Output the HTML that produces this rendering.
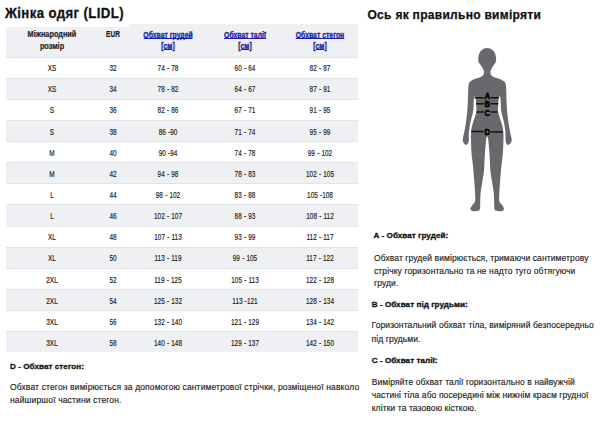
<!DOCTYPE html>
<html><head><meta charset="utf-8"><style>
html,body{margin:0;padding:0;background:#fff;width:600px;height:427px;overflow:hidden;font-family:"Liberation Sans",sans-serif}
#wrap{position:absolute;left:0;top:0;width:600px;height:427px;background:#fff}
</style></head><body><div id="wrap">
<svg style="position:absolute;left:0;top:0" width="600" height="427" viewBox="0 0 600 427">
<path d="M487.2 48C489 48 491.27 48.95 492.6 49.9C493.93 50.85 494.62 52.27 495.2 53.7C495.78 55.13 496 57.1 496.1 58.5C496.2 59.9 496.12 61.12 495.8 62.1C495.48 63.08 494.8 63.48 494.2 64.4C493.6 65.32 492.78 66.6 492.2 67.6C491.62 68.6 491 69.57 490.7 70.4C490.4 71.23 490.33 71.83 490.4 72.6C490.47 73.37 490.57 74.28 491.1 75C491.63 75.72 492.28 76.28 493.6 76.9C494.92 77.52 497.5 78.12 499 78.7C500.5 79.28 501.62 79.82 502.6 80.4C503.58 80.98 504.37 81.43 504.9 82.2C505.43 82.97 505.58 83.77 505.8 85C506.02 86.23 506.08 87.1 506.2 89.6C506.32 92.1 506.35 96.43 506.5 100C506.65 103.57 506.78 107.33 507.1 111C507.42 114.67 507.93 118.67 508.4 122C508.87 125.33 509.4 128.37 509.9 131C510.4 133.63 511.13 136.1 511.4 137.8C511.67 139.5 511.82 140.13 511.5 141.2C511.18 142.27 510.15 143.6 509.5 144.2C508.85 144.8 508.15 145 507.6 144.8C507.05 144.6 506.55 143.8 506.2 143C505.85 142.2 505.6 141.08 505.5 140C505.4 138.92 505.67 138.33 505.6 136.5C505.53 134.67 505.47 131.75 505.1 129C504.73 126.25 504.05 123 503.4 120C502.75 117 501.67 114.33 501.2 111C500.73 107.67 500.83 102.45 500.6 100C500.37 97.55 500.12 96.47 499.8 96.3C499.48 96.13 498.98 97.38 498.7 99C498.42 100.62 498.2 103.83 498.1 106C498 108.17 497.75 109.83 498.1 112C498.45 114.17 499.48 116.67 500.2 119C500.92 121.33 501.87 123.67 502.4 126C502.93 128.33 503.23 130.33 503.4 133C503.57 135.67 503.5 138.5 503.4 142C503.3 145.5 503.13 150 502.8 154C502.47 158 501.73 162.83 501.4 166C501.07 169.17 501.07 169.83 500.8 173C500.53 176.17 500.07 181.17 499.8 185C499.53 188.83 499.27 193.25 499.2 196C499.13 198.75 498.87 199.92 499.4 201.5C499.93 203.08 501.63 204.28 502.4 205.5C503.17 206.72 504.03 207.88 504 208.8C503.97 209.72 503.25 210.63 502.2 211C501.15 211.37 498.97 211.25 497.7 211C496.43 210.75 495.18 210.83 494.6 209.5C494.02 208.17 494.33 205.75 494.2 203C494.07 200.25 494.2 196.83 493.8 193C493.4 189.17 492.35 183.5 491.8 180C491.25 176.5 490.82 175.17 490.5 172C490.18 168.83 490.1 164.5 489.9 161C489.7 157.5 489.52 154 489.3 151C489.08 148 488.83 145.25 488.6 143C488.37 140.75 488.13 138.6 487.9 137.5C487.67 136.4 487.43 136.4 487.2 136.4C486.97 136.4 486.73 136.4 486.5 137.5C486.27 138.6 486.03 140.75 485.8 143C485.57 145.25 485.32 148 485.1 151C484.88 154 484.7 157.5 484.5 161C484.3 164.5 484.22 168.83 483.9 172C483.58 175.17 483.15 176.5 482.6 180C482.05 183.5 481 189.17 480.6 193C480.2 196.83 480.33 200.25 480.2 203C480.07 205.75 480.38 208.17 479.8 209.5C479.22 210.83 477.97 210.75 476.7 211C475.43 211.25 473.25 211.37 472.2 211C471.15 210.63 470.43 209.72 470.4 208.8C470.37 207.88 471.23 206.72 472 205.5C472.77 204.28 474.47 203.08 475 201.5C475.53 199.92 475.27 198.75 475.2 196C475.13 193.25 474.87 188.83 474.6 185C474.33 181.17 473.87 176.17 473.6 173C473.33 169.83 473.33 169.17 473 166C472.67 162.83 471.93 158 471.6 154C471.27 150 471.1 145.5 471 142C470.9 138.5 470.83 135.67 471 133C471.17 130.33 471.47 128.33 472 126C472.53 123.67 473.48 121.33 474.2 119C474.92 116.67 475.95 114.17 476.3 112C476.65 109.83 476.4 108.17 476.3 106C476.2 103.83 475.98 100.62 475.7 99C475.42 97.38 474.92 96.13 474.6 96.3C474.28 96.47 474.03 97.55 473.8 100C473.57 102.45 473.67 107.67 473.2 111C472.73 114.33 471.65 117 471 120C470.35 123 469.67 126.25 469.3 129C468.93 131.75 468.87 134.67 468.8 136.5C468.73 138.33 469 138.92 468.9 140C468.8 141.08 468.55 142.2 468.2 143C467.85 143.8 467.35 144.6 466.8 144.8C466.25 145 465.55 144.8 464.9 144.2C464.25 143.6 463.22 142.27 462.9 141.2C462.58 140.13 462.73 139.5 463 137.8C463.27 136.1 464 133.63 464.5 131C465 128.37 465.53 125.33 466 122C466.47 118.67 466.98 114.67 467.3 111C467.62 107.33 467.75 103.57 467.9 100C468.05 96.43 468.08 92.1 468.2 89.6C468.32 87.1 468.38 86.23 468.6 85C468.82 83.77 468.97 82.97 469.5 82.2C470.03 81.43 470.82 80.98 471.8 80.4C472.78 79.82 473.9 79.28 475.4 78.7C476.9 78.12 479.48 77.52 480.8 76.9C482.12 76.28 482.77 75.72 483.3 75C483.83 74.28 483.93 73.37 484 72.6C484.07 71.83 484 71.23 483.7 70.4C483.4 69.57 482.78 68.6 482.2 67.6C481.62 66.6 480.8 65.32 480.2 64.4C479.6 63.48 478.92 63.08 478.6 62.1C478.28 61.12 478.2 59.9 478.3 58.5C478.4 57.1 478.62 55.13 479.2 53.7C479.78 52.27 480.47 50.85 481.8 49.9C483.13 48.95 485.4 48 487.2 48Z" fill="#68696c"/>
<g stroke="#141414" stroke-width="1.5" fill="none">
<path d="M474.6 97.7H484.6M490.2 97.7H498.8"/>
<path d="M476 103.7H484.6M490.2 103.7H498.2"/>
<path d="M476.5 112H484.6M490.2 112H497.6"/>
<path d="M471.2 131.4L484.6 131.6M490.2 131.8L502.8 132"/>
</g>
<g font-family="Liberation Sans" font-weight="bold" font-size="94.0" fill="none" text-anchor="middle" stroke="#8a8b8e" stroke-width="20.0" stroke-linejoin="round"><text transform="translate(487.4 99.4) scale(0.0840 0.1)">A</text><text transform="translate(487.4 107.1) scale(0.0840 0.1)">B</text><text transform="translate(487.4 115.5) scale(0.0840 0.1)">C</text><text transform="translate(487.4 135.2) scale(0.0840 0.1)">D</text></g><g font-family="Liberation Sans" font-weight="bold" font-size="94.0" fill="#0a0a0a" text-anchor="middle" stroke="#0a0a0a" stroke-width="10.0"><text transform="translate(487.4 99.4) scale(0.0840 0.1)">A</text><text transform="translate(487.4 107.1) scale(0.0840 0.1)">B</text><text transform="translate(487.4 115.5) scale(0.0840 0.1)">C</text><text transform="translate(487.4 135.2) scale(0.0840 0.1)">D</text></g>

</svg>
<div style="position:absolute;left:6.3px;top:24px;width:351.9px;height:32.5px;background:#eff0f3"></div><div style="position:absolute;left:6.3px;top:56.50px;width:351.9px;height:1px;background:#e3e4e7"></div><div style="position:absolute;left:6.3px;top:77.64px;width:351.9px;height:21.14px;background:#eff0f3"></div><div style="position:absolute;left:6.3px;top:77.64px;width:351.9px;height:1px;background:#e3e4e7"></div><div style="position:absolute;left:6.3px;top:98.78px;width:351.9px;height:1px;background:#e3e4e7"></div><div style="position:absolute;left:6.3px;top:119.92px;width:351.9px;height:21.14px;background:#eff0f3"></div><div style="position:absolute;left:6.3px;top:119.92px;width:351.9px;height:1px;background:#e3e4e7"></div><div style="position:absolute;left:6.3px;top:141.06px;width:351.9px;height:1px;background:#e3e4e7"></div><div style="position:absolute;left:6.3px;top:162.20px;width:351.9px;height:21.14px;background:#eff0f3"></div><div style="position:absolute;left:6.3px;top:162.20px;width:351.9px;height:1px;background:#e3e4e7"></div><div style="position:absolute;left:6.3px;top:183.34px;width:351.9px;height:1px;background:#e3e4e7"></div><div style="position:absolute;left:6.3px;top:204.48px;width:351.9px;height:21.14px;background:#eff0f3"></div><div style="position:absolute;left:6.3px;top:204.48px;width:351.9px;height:1px;background:#e3e4e7"></div><div style="position:absolute;left:6.3px;top:225.62px;width:351.9px;height:1px;background:#e3e4e7"></div><div style="position:absolute;left:6.3px;top:246.76px;width:351.9px;height:21.14px;background:#eff0f3"></div><div style="position:absolute;left:6.3px;top:246.76px;width:351.9px;height:1px;background:#e3e4e7"></div><div style="position:absolute;left:6.3px;top:267.90px;width:351.9px;height:1px;background:#e3e4e7"></div><div style="position:absolute;left:6.3px;top:289.04px;width:351.9px;height:21.14px;background:#eff0f3"></div><div style="position:absolute;left:6.3px;top:289.04px;width:351.9px;height:1px;background:#e3e4e7"></div><div style="position:absolute;left:6.3px;top:310.18px;width:351.9px;height:1px;background:#e3e4e7"></div><div style="position:absolute;left:6.3px;top:331.32px;width:351.9px;height:21.14px;background:#eff0f3"></div><div style="position:absolute;left:6.3px;top:331.32px;width:351.9px;height:1px;background:#e3e4e7"></div><div style="position:absolute;left:0;top:0;width:128.5px;height:26.5px;background:#fff"></div><div style="position:absolute;left:5.10px;top:5.49px;font-size:14.8px;line-height:17.76px;font-weight:bold;color:#111;letter-spacing:0.45px;white-space:nowrap;transform:scaleX(0.89);-webkit-text-stroke:0.3px #111;transform-origin:0 0;">Жінка одяг (LIDL)</div><div style="position:absolute;left:367.50px;top:7.94px;font-size:12px;line-height:14.40px;font-weight:bold;color:#111;letter-spacing:0.29px;white-space:nowrap;-webkit-text-stroke:0.25px #111;transform-origin:0 0;">Ось як правильно виміряти</div><div style="position:absolute;left:-148.00px;width:400px;top:30.14px;font-size:8.2px;line-height:9.84px;font-weight:bold;color:#1e1e1e;letter-spacing:0px;text-align:center;white-space:nowrap;transform:scaleX(0.894);-webkit-text-stroke:0.2px #1e1e1e;transform-origin:200px 0;">Міжнародний</div><div style="position:absolute;left:-148.00px;width:400px;top:42.24px;font-size:8.2px;line-height:9.84px;font-weight:bold;color:#1e1e1e;letter-spacing:0px;text-align:center;white-space:nowrap;transform:scaleX(0.894);-webkit-text-stroke:0.2px #1e1e1e;transform-origin:200px 0;">розмір</div><div style="position:absolute;left:-87.30px;width:400px;top:30.14px;font-size:8.2px;line-height:9.84px;font-weight:bold;color:#1e1e1e;letter-spacing:0px;text-align:center;white-space:nowrap;transform:scaleX(0.8);-webkit-text-stroke:0.2px #1e1e1e;transform-origin:200px 0;">EUR</div><div style="position:absolute;left:-31.90px;width:400px;top:30.84px;font-size:8.2px;line-height:9.84px;font-weight:bold;color:#1c1ca6;letter-spacing:0px;text-align:center;white-space:nowrap;transform:scaleX(0.837);-webkit-text-stroke:0.3px #1c1ca6;transform-origin:200px 0;"><span style="background:linear-gradient(#1c1ca6,#1c1ca6) 0 calc(100% - 0.4px)/100% 1px no-repeat">Обхват грудей</span></div><div style="position:absolute;left:-31.90px;width:400px;top:42.34px;font-size:8.2px;line-height:9.84px;font-weight:bold;color:#1c1ca6;letter-spacing:0px;text-align:center;white-space:nowrap;transform:scaleX(0.837);-webkit-text-stroke:0.3px #1c1ca6;transform-origin:200px 0;"><span style="color:#22225e;-webkit-text-stroke-color:#22225e">[</span><span style="background:linear-gradient(#1c1ca6,#1c1ca6) 0 calc(100% - 0.9px)/100% 1px no-repeat">см</span><span style="color:#22225e;-webkit-text-stroke-color:#22225e">]</span></div><div style="position:absolute;left:44.50px;width:400px;top:30.84px;font-size:8.2px;line-height:9.84px;font-weight:bold;color:#1c1ca6;letter-spacing:0px;text-align:center;white-space:nowrap;transform:scaleX(0.837);-webkit-text-stroke:0.3px #1c1ca6;transform-origin:200px 0;"><span style="background:linear-gradient(#1c1ca6,#1c1ca6) 0 calc(100% - 0.4px)/100% 1px no-repeat">Обхват талії</span></div><div style="position:absolute;left:44.50px;width:400px;top:42.34px;font-size:8.2px;line-height:9.84px;font-weight:bold;color:#1c1ca6;letter-spacing:0px;text-align:center;white-space:nowrap;transform:scaleX(0.837);-webkit-text-stroke:0.3px #1c1ca6;transform-origin:200px 0;"><span style="color:#22225e;-webkit-text-stroke-color:#22225e">[</span><span style="background:linear-gradient(#1c1ca6,#1c1ca6) 0 calc(100% - 0.9px)/100% 1px no-repeat">см</span><span style="color:#22225e;-webkit-text-stroke-color:#22225e">]</span></div><div style="position:absolute;left:120.00px;width:400px;top:30.84px;font-size:8.2px;line-height:9.84px;font-weight:bold;color:#1c1ca6;letter-spacing:0px;text-align:center;white-space:nowrap;transform:scaleX(0.837);-webkit-text-stroke:0.3px #1c1ca6;transform-origin:200px 0;"><span style="background:linear-gradient(#1c1ca6,#1c1ca6) 0 calc(100% - 0.4px)/100% 1px no-repeat">Обхват стегон</span></div><div style="position:absolute;left:120.00px;width:400px;top:42.34px;font-size:8.2px;line-height:9.84px;font-weight:bold;color:#1c1ca6;letter-spacing:0px;text-align:center;white-space:nowrap;transform:scaleX(0.837);-webkit-text-stroke:0.3px #1c1ca6;transform-origin:200px 0;"><span style="color:#22225e;-webkit-text-stroke-color:#22225e">[</span><span style="background:linear-gradient(#1c1ca6,#1c1ca6) 0 calc(100% - 0.9px)/100% 1px no-repeat">см</span><span style="color:#22225e;-webkit-text-stroke-color:#22225e">]</span></div><div style="position:absolute;left:-148.00px;width:400px;top:62.10px;font-size:9.4px;line-height:11.28px;font-weight:normal;color:#222;letter-spacing:0px;text-align:center;white-space:nowrap;transform:scaleX(0.685);-webkit-text-stroke:0.18px #222;transform-origin:200px 0;word-spacing:0.6px;">XS</div><div style="position:absolute;left:-87.30px;width:400px;top:62.10px;font-size:9.4px;line-height:11.28px;font-weight:normal;color:#222;letter-spacing:0px;text-align:center;white-space:nowrap;transform:scaleX(0.685);-webkit-text-stroke:0.18px #222;transform-origin:200px 0;word-spacing:0.6px;">32</div><div style="position:absolute;left:-31.90px;width:400px;top:62.10px;font-size:9.4px;line-height:11.28px;font-weight:normal;color:#222;letter-spacing:0px;text-align:center;white-space:nowrap;transform:scaleX(0.685);-webkit-text-stroke:0.18px #222;transform-origin:200px 0;word-spacing:0.6px;">74 - 78</div><div style="position:absolute;left:44.50px;width:400px;top:62.10px;font-size:9.4px;line-height:11.28px;font-weight:normal;color:#222;letter-spacing:0px;text-align:center;white-space:nowrap;transform:scaleX(0.685);-webkit-text-stroke:0.18px #222;transform-origin:200px 0;word-spacing:0.6px;">60 - 64</div><div style="position:absolute;left:120.00px;width:400px;top:62.10px;font-size:9.4px;line-height:11.28px;font-weight:normal;color:#222;letter-spacing:0px;text-align:center;white-space:nowrap;transform:scaleX(0.685);-webkit-text-stroke:0.18px #222;transform-origin:200px 0;word-spacing:0.6px;">82 - 87</div><div style="position:absolute;left:-148.00px;width:400px;top:83.24px;font-size:9.4px;line-height:11.28px;font-weight:normal;color:#222;letter-spacing:0px;text-align:center;white-space:nowrap;transform:scaleX(0.685);-webkit-text-stroke:0.18px #222;transform-origin:200px 0;word-spacing:0.6px;">XS</div><div style="position:absolute;left:-87.30px;width:400px;top:83.24px;font-size:9.4px;line-height:11.28px;font-weight:normal;color:#222;letter-spacing:0px;text-align:center;white-space:nowrap;transform:scaleX(0.685);-webkit-text-stroke:0.18px #222;transform-origin:200px 0;word-spacing:0.6px;">34</div><div style="position:absolute;left:-31.90px;width:400px;top:83.24px;font-size:9.4px;line-height:11.28px;font-weight:normal;color:#222;letter-spacing:0px;text-align:center;white-space:nowrap;transform:scaleX(0.685);-webkit-text-stroke:0.18px #222;transform-origin:200px 0;word-spacing:0.6px;">78 - 82</div><div style="position:absolute;left:44.50px;width:400px;top:83.24px;font-size:9.4px;line-height:11.28px;font-weight:normal;color:#222;letter-spacing:0px;text-align:center;white-space:nowrap;transform:scaleX(0.685);-webkit-text-stroke:0.18px #222;transform-origin:200px 0;word-spacing:0.6px;">64 - 67</div><div style="position:absolute;left:120.00px;width:400px;top:83.24px;font-size:9.4px;line-height:11.28px;font-weight:normal;color:#222;letter-spacing:0px;text-align:center;white-space:nowrap;transform:scaleX(0.685);-webkit-text-stroke:0.18px #222;transform-origin:200px 0;word-spacing:0.6px;">87 - 91</div><div style="position:absolute;left:-148.00px;width:400px;top:104.38px;font-size:9.4px;line-height:11.28px;font-weight:normal;color:#222;letter-spacing:0px;text-align:center;white-space:nowrap;transform:scaleX(0.685);-webkit-text-stroke:0.18px #222;transform-origin:200px 0;word-spacing:0.6px;">S</div><div style="position:absolute;left:-87.30px;width:400px;top:104.38px;font-size:9.4px;line-height:11.28px;font-weight:normal;color:#222;letter-spacing:0px;text-align:center;white-space:nowrap;transform:scaleX(0.685);-webkit-text-stroke:0.18px #222;transform-origin:200px 0;word-spacing:0.6px;">36</div><div style="position:absolute;left:-31.90px;width:400px;top:104.38px;font-size:9.4px;line-height:11.28px;font-weight:normal;color:#222;letter-spacing:0px;text-align:center;white-space:nowrap;transform:scaleX(0.685);-webkit-text-stroke:0.18px #222;transform-origin:200px 0;word-spacing:0.6px;">82 - 86</div><div style="position:absolute;left:44.50px;width:400px;top:104.38px;font-size:9.4px;line-height:11.28px;font-weight:normal;color:#222;letter-spacing:0px;text-align:center;white-space:nowrap;transform:scaleX(0.685);-webkit-text-stroke:0.18px #222;transform-origin:200px 0;word-spacing:0.6px;">67 - 71</div><div style="position:absolute;left:120.00px;width:400px;top:104.38px;font-size:9.4px;line-height:11.28px;font-weight:normal;color:#222;letter-spacing:0px;text-align:center;white-space:nowrap;transform:scaleX(0.685);-webkit-text-stroke:0.18px #222;transform-origin:200px 0;word-spacing:0.6px;">91 - 95</div><div style="position:absolute;left:-148.00px;width:400px;top:125.52px;font-size:9.4px;line-height:11.28px;font-weight:normal;color:#222;letter-spacing:0px;text-align:center;white-space:nowrap;transform:scaleX(0.685);-webkit-text-stroke:0.18px #222;transform-origin:200px 0;word-spacing:0.6px;">S</div><div style="position:absolute;left:-87.30px;width:400px;top:125.52px;font-size:9.4px;line-height:11.28px;font-weight:normal;color:#222;letter-spacing:0px;text-align:center;white-space:nowrap;transform:scaleX(0.685);-webkit-text-stroke:0.18px #222;transform-origin:200px 0;word-spacing:0.6px;">38</div><div style="position:absolute;left:-31.90px;width:400px;top:125.52px;font-size:9.4px;line-height:11.28px;font-weight:normal;color:#222;letter-spacing:0px;text-align:center;white-space:nowrap;transform:scaleX(0.685);-webkit-text-stroke:0.18px #222;transform-origin:200px 0;word-spacing:0.6px;">86 -90</div><div style="position:absolute;left:44.50px;width:400px;top:125.52px;font-size:9.4px;line-height:11.28px;font-weight:normal;color:#222;letter-spacing:0px;text-align:center;white-space:nowrap;transform:scaleX(0.685);-webkit-text-stroke:0.18px #222;transform-origin:200px 0;word-spacing:0.6px;">71 - 74</div><div style="position:absolute;left:120.00px;width:400px;top:125.52px;font-size:9.4px;line-height:11.28px;font-weight:normal;color:#222;letter-spacing:0px;text-align:center;white-space:nowrap;transform:scaleX(0.685);-webkit-text-stroke:0.18px #222;transform-origin:200px 0;word-spacing:0.6px;">95 - 99</div><div style="position:absolute;left:-148.00px;width:400px;top:146.66px;font-size:9.4px;line-height:11.28px;font-weight:normal;color:#222;letter-spacing:0px;text-align:center;white-space:nowrap;transform:scaleX(0.685);-webkit-text-stroke:0.18px #222;transform-origin:200px 0;word-spacing:0.6px;">M</div><div style="position:absolute;left:-87.30px;width:400px;top:146.66px;font-size:9.4px;line-height:11.28px;font-weight:normal;color:#222;letter-spacing:0px;text-align:center;white-space:nowrap;transform:scaleX(0.685);-webkit-text-stroke:0.18px #222;transform-origin:200px 0;word-spacing:0.6px;">40</div><div style="position:absolute;left:-31.90px;width:400px;top:146.66px;font-size:9.4px;line-height:11.28px;font-weight:normal;color:#222;letter-spacing:0px;text-align:center;white-space:nowrap;transform:scaleX(0.685);-webkit-text-stroke:0.18px #222;transform-origin:200px 0;word-spacing:0.6px;">90 -94</div><div style="position:absolute;left:44.50px;width:400px;top:146.66px;font-size:9.4px;line-height:11.28px;font-weight:normal;color:#222;letter-spacing:0px;text-align:center;white-space:nowrap;transform:scaleX(0.685);-webkit-text-stroke:0.18px #222;transform-origin:200px 0;word-spacing:0.6px;">74 - 78</div><div style="position:absolute;left:120.00px;width:400px;top:146.66px;font-size:9.4px;line-height:11.28px;font-weight:normal;color:#222;letter-spacing:0px;text-align:center;white-space:nowrap;transform:scaleX(0.685);-webkit-text-stroke:0.18px #222;transform-origin:200px 0;word-spacing:0.6px;">99 - 102</div><div style="position:absolute;left:-148.00px;width:400px;top:167.80px;font-size:9.4px;line-height:11.28px;font-weight:normal;color:#222;letter-spacing:0px;text-align:center;white-space:nowrap;transform:scaleX(0.685);-webkit-text-stroke:0.18px #222;transform-origin:200px 0;word-spacing:0.6px;">M</div><div style="position:absolute;left:-87.30px;width:400px;top:167.80px;font-size:9.4px;line-height:11.28px;font-weight:normal;color:#222;letter-spacing:0px;text-align:center;white-space:nowrap;transform:scaleX(0.685);-webkit-text-stroke:0.18px #222;transform-origin:200px 0;word-spacing:0.6px;">42</div><div style="position:absolute;left:-31.90px;width:400px;top:167.80px;font-size:9.4px;line-height:11.28px;font-weight:normal;color:#222;letter-spacing:0px;text-align:center;white-space:nowrap;transform:scaleX(0.685);-webkit-text-stroke:0.18px #222;transform-origin:200px 0;word-spacing:0.6px;">94 - 98</div><div style="position:absolute;left:44.50px;width:400px;top:167.80px;font-size:9.4px;line-height:11.28px;font-weight:normal;color:#222;letter-spacing:0px;text-align:center;white-space:nowrap;transform:scaleX(0.685);-webkit-text-stroke:0.18px #222;transform-origin:200px 0;word-spacing:0.6px;">78 - 83</div><div style="position:absolute;left:120.00px;width:400px;top:167.80px;font-size:9.4px;line-height:11.28px;font-weight:normal;color:#222;letter-spacing:0px;text-align:center;white-space:nowrap;transform:scaleX(0.685);-webkit-text-stroke:0.18px #222;transform-origin:200px 0;word-spacing:0.6px;">102 - 105</div><div style="position:absolute;left:-148.00px;width:400px;top:188.94px;font-size:9.4px;line-height:11.28px;font-weight:normal;color:#222;letter-spacing:0px;text-align:center;white-space:nowrap;transform:scaleX(0.685);-webkit-text-stroke:0.18px #222;transform-origin:200px 0;word-spacing:0.6px;">L</div><div style="position:absolute;left:-87.30px;width:400px;top:188.94px;font-size:9.4px;line-height:11.28px;font-weight:normal;color:#222;letter-spacing:0px;text-align:center;white-space:nowrap;transform:scaleX(0.685);-webkit-text-stroke:0.18px #222;transform-origin:200px 0;word-spacing:0.6px;">44</div><div style="position:absolute;left:-31.90px;width:400px;top:188.94px;font-size:9.4px;line-height:11.28px;font-weight:normal;color:#222;letter-spacing:0px;text-align:center;white-space:nowrap;transform:scaleX(0.685);-webkit-text-stroke:0.18px #222;transform-origin:200px 0;word-spacing:0.6px;">98 - 102</div><div style="position:absolute;left:44.50px;width:400px;top:188.94px;font-size:9.4px;line-height:11.28px;font-weight:normal;color:#222;letter-spacing:0px;text-align:center;white-space:nowrap;transform:scaleX(0.685);-webkit-text-stroke:0.18px #222;transform-origin:200px 0;word-spacing:0.6px;">83 - 88</div><div style="position:absolute;left:120.00px;width:400px;top:188.94px;font-size:9.4px;line-height:11.28px;font-weight:normal;color:#222;letter-spacing:0px;text-align:center;white-space:nowrap;transform:scaleX(0.685);-webkit-text-stroke:0.18px #222;transform-origin:200px 0;word-spacing:0.6px;">105 -108</div><div style="position:absolute;left:-148.00px;width:400px;top:210.08px;font-size:9.4px;line-height:11.28px;font-weight:normal;color:#222;letter-spacing:0px;text-align:center;white-space:nowrap;transform:scaleX(0.685);-webkit-text-stroke:0.18px #222;transform-origin:200px 0;word-spacing:0.6px;">L</div><div style="position:absolute;left:-87.30px;width:400px;top:210.08px;font-size:9.4px;line-height:11.28px;font-weight:normal;color:#222;letter-spacing:0px;text-align:center;white-space:nowrap;transform:scaleX(0.685);-webkit-text-stroke:0.18px #222;transform-origin:200px 0;word-spacing:0.6px;">46</div><div style="position:absolute;left:-31.90px;width:400px;top:210.08px;font-size:9.4px;line-height:11.28px;font-weight:normal;color:#222;letter-spacing:0px;text-align:center;white-space:nowrap;transform:scaleX(0.685);-webkit-text-stroke:0.18px #222;transform-origin:200px 0;word-spacing:0.6px;">102 - 107</div><div style="position:absolute;left:44.50px;width:400px;top:210.08px;font-size:9.4px;line-height:11.28px;font-weight:normal;color:#222;letter-spacing:0px;text-align:center;white-space:nowrap;transform:scaleX(0.685);-webkit-text-stroke:0.18px #222;transform-origin:200px 0;word-spacing:0.6px;">88 - 93</div><div style="position:absolute;left:120.00px;width:400px;top:210.08px;font-size:9.4px;line-height:11.28px;font-weight:normal;color:#222;letter-spacing:0px;text-align:center;white-space:nowrap;transform:scaleX(0.685);-webkit-text-stroke:0.18px #222;transform-origin:200px 0;word-spacing:0.6px;">108 - 112</div><div style="position:absolute;left:-148.00px;width:400px;top:231.22px;font-size:9.4px;line-height:11.28px;font-weight:normal;color:#222;letter-spacing:0px;text-align:center;white-space:nowrap;transform:scaleX(0.685);-webkit-text-stroke:0.18px #222;transform-origin:200px 0;word-spacing:0.6px;">XL</div><div style="position:absolute;left:-87.30px;width:400px;top:231.22px;font-size:9.4px;line-height:11.28px;font-weight:normal;color:#222;letter-spacing:0px;text-align:center;white-space:nowrap;transform:scaleX(0.685);-webkit-text-stroke:0.18px #222;transform-origin:200px 0;word-spacing:0.6px;">48</div><div style="position:absolute;left:-31.90px;width:400px;top:231.22px;font-size:9.4px;line-height:11.28px;font-weight:normal;color:#222;letter-spacing:0px;text-align:center;white-space:nowrap;transform:scaleX(0.685);-webkit-text-stroke:0.18px #222;transform-origin:200px 0;word-spacing:0.6px;">107 - 113</div><div style="position:absolute;left:44.50px;width:400px;top:231.22px;font-size:9.4px;line-height:11.28px;font-weight:normal;color:#222;letter-spacing:0px;text-align:center;white-space:nowrap;transform:scaleX(0.685);-webkit-text-stroke:0.18px #222;transform-origin:200px 0;word-spacing:0.6px;">93 - 99</div><div style="position:absolute;left:120.00px;width:400px;top:231.22px;font-size:9.4px;line-height:11.28px;font-weight:normal;color:#222;letter-spacing:0px;text-align:center;white-space:nowrap;transform:scaleX(0.685);-webkit-text-stroke:0.18px #222;transform-origin:200px 0;word-spacing:0.6px;">112 - 117</div><div style="position:absolute;left:-148.00px;width:400px;top:252.36px;font-size:9.4px;line-height:11.28px;font-weight:normal;color:#222;letter-spacing:0px;text-align:center;white-space:nowrap;transform:scaleX(0.685);-webkit-text-stroke:0.18px #222;transform-origin:200px 0;word-spacing:0.6px;">XL</div><div style="position:absolute;left:-87.30px;width:400px;top:252.36px;font-size:9.4px;line-height:11.28px;font-weight:normal;color:#222;letter-spacing:0px;text-align:center;white-space:nowrap;transform:scaleX(0.685);-webkit-text-stroke:0.18px #222;transform-origin:200px 0;word-spacing:0.6px;">50</div><div style="position:absolute;left:-31.90px;width:400px;top:252.36px;font-size:9.4px;line-height:11.28px;font-weight:normal;color:#222;letter-spacing:0px;text-align:center;white-space:nowrap;transform:scaleX(0.685);-webkit-text-stroke:0.18px #222;transform-origin:200px 0;word-spacing:0.6px;">113 - 119</div><div style="position:absolute;left:44.50px;width:400px;top:252.36px;font-size:9.4px;line-height:11.28px;font-weight:normal;color:#222;letter-spacing:0px;text-align:center;white-space:nowrap;transform:scaleX(0.685);-webkit-text-stroke:0.18px #222;transform-origin:200px 0;word-spacing:0.6px;">99 - 105</div><div style="position:absolute;left:120.00px;width:400px;top:252.36px;font-size:9.4px;line-height:11.28px;font-weight:normal;color:#222;letter-spacing:0px;text-align:center;white-space:nowrap;transform:scaleX(0.685);-webkit-text-stroke:0.18px #222;transform-origin:200px 0;word-spacing:0.6px;">117 - 122</div><div style="position:absolute;left:-148.00px;width:400px;top:273.50px;font-size:9.4px;line-height:11.28px;font-weight:normal;color:#222;letter-spacing:0px;text-align:center;white-space:nowrap;transform:scaleX(0.685);-webkit-text-stroke:0.18px #222;transform-origin:200px 0;word-spacing:0.6px;">2XL</div><div style="position:absolute;left:-87.30px;width:400px;top:273.50px;font-size:9.4px;line-height:11.28px;font-weight:normal;color:#222;letter-spacing:0px;text-align:center;white-space:nowrap;transform:scaleX(0.685);-webkit-text-stroke:0.18px #222;transform-origin:200px 0;word-spacing:0.6px;">52</div><div style="position:absolute;left:-31.90px;width:400px;top:273.50px;font-size:9.4px;line-height:11.28px;font-weight:normal;color:#222;letter-spacing:0px;text-align:center;white-space:nowrap;transform:scaleX(0.685);-webkit-text-stroke:0.18px #222;transform-origin:200px 0;word-spacing:0.6px;">119 - 125</div><div style="position:absolute;left:44.50px;width:400px;top:273.50px;font-size:9.4px;line-height:11.28px;font-weight:normal;color:#222;letter-spacing:0px;text-align:center;white-space:nowrap;transform:scaleX(0.685);-webkit-text-stroke:0.18px #222;transform-origin:200px 0;word-spacing:0.6px;">105 - 113</div><div style="position:absolute;left:120.00px;width:400px;top:273.50px;font-size:9.4px;line-height:11.28px;font-weight:normal;color:#222;letter-spacing:0px;text-align:center;white-space:nowrap;transform:scaleX(0.685);-webkit-text-stroke:0.18px #222;transform-origin:200px 0;word-spacing:0.6px;">122 - 128</div><div style="position:absolute;left:-148.00px;width:400px;top:294.64px;font-size:9.4px;line-height:11.28px;font-weight:normal;color:#222;letter-spacing:0px;text-align:center;white-space:nowrap;transform:scaleX(0.685);-webkit-text-stroke:0.18px #222;transform-origin:200px 0;word-spacing:0.6px;">2XL</div><div style="position:absolute;left:-87.30px;width:400px;top:294.64px;font-size:9.4px;line-height:11.28px;font-weight:normal;color:#222;letter-spacing:0px;text-align:center;white-space:nowrap;transform:scaleX(0.685);-webkit-text-stroke:0.18px #222;transform-origin:200px 0;word-spacing:0.6px;">54</div><div style="position:absolute;left:-31.90px;width:400px;top:294.64px;font-size:9.4px;line-height:11.28px;font-weight:normal;color:#222;letter-spacing:0px;text-align:center;white-space:nowrap;transform:scaleX(0.685);-webkit-text-stroke:0.18px #222;transform-origin:200px 0;word-spacing:0.6px;">125 - 132</div><div style="position:absolute;left:44.50px;width:400px;top:294.64px;font-size:9.4px;line-height:11.28px;font-weight:normal;color:#222;letter-spacing:0px;text-align:center;white-space:nowrap;transform:scaleX(0.685);-webkit-text-stroke:0.18px #222;transform-origin:200px 0;word-spacing:0.6px;">113 -121</div><div style="position:absolute;left:120.00px;width:400px;top:294.64px;font-size:9.4px;line-height:11.28px;font-weight:normal;color:#222;letter-spacing:0px;text-align:center;white-space:nowrap;transform:scaleX(0.685);-webkit-text-stroke:0.18px #222;transform-origin:200px 0;word-spacing:0.6px;">128 - 134</div><div style="position:absolute;left:-148.00px;width:400px;top:315.78px;font-size:9.4px;line-height:11.28px;font-weight:normal;color:#222;letter-spacing:0px;text-align:center;white-space:nowrap;transform:scaleX(0.685);-webkit-text-stroke:0.18px #222;transform-origin:200px 0;word-spacing:0.6px;">3XL</div><div style="position:absolute;left:-87.30px;width:400px;top:315.78px;font-size:9.4px;line-height:11.28px;font-weight:normal;color:#222;letter-spacing:0px;text-align:center;white-space:nowrap;transform:scaleX(0.685);-webkit-text-stroke:0.18px #222;transform-origin:200px 0;word-spacing:0.6px;">56</div><div style="position:absolute;left:-31.90px;width:400px;top:315.78px;font-size:9.4px;line-height:11.28px;font-weight:normal;color:#222;letter-spacing:0px;text-align:center;white-space:nowrap;transform:scaleX(0.685);-webkit-text-stroke:0.18px #222;transform-origin:200px 0;word-spacing:0.6px;">132 - 140</div><div style="position:absolute;left:44.50px;width:400px;top:315.78px;font-size:9.4px;line-height:11.28px;font-weight:normal;color:#222;letter-spacing:0px;text-align:center;white-space:nowrap;transform:scaleX(0.685);-webkit-text-stroke:0.18px #222;transform-origin:200px 0;word-spacing:0.6px;">121 - 129</div><div style="position:absolute;left:120.00px;width:400px;top:315.78px;font-size:9.4px;line-height:11.28px;font-weight:normal;color:#222;letter-spacing:0px;text-align:center;white-space:nowrap;transform:scaleX(0.685);-webkit-text-stroke:0.18px #222;transform-origin:200px 0;word-spacing:0.6px;">134 - 142</div><div style="position:absolute;left:-148.00px;width:400px;top:336.92px;font-size:9.4px;line-height:11.28px;font-weight:normal;color:#222;letter-spacing:0px;text-align:center;white-space:nowrap;transform:scaleX(0.685);-webkit-text-stroke:0.18px #222;transform-origin:200px 0;word-spacing:0.6px;">3XL</div><div style="position:absolute;left:-87.30px;width:400px;top:336.92px;font-size:9.4px;line-height:11.28px;font-weight:normal;color:#222;letter-spacing:0px;text-align:center;white-space:nowrap;transform:scaleX(0.685);-webkit-text-stroke:0.18px #222;transform-origin:200px 0;word-spacing:0.6px;">58</div><div style="position:absolute;left:-31.90px;width:400px;top:336.92px;font-size:9.4px;line-height:11.28px;font-weight:normal;color:#222;letter-spacing:0px;text-align:center;white-space:nowrap;transform:scaleX(0.685);-webkit-text-stroke:0.18px #222;transform-origin:200px 0;word-spacing:0.6px;">140 - 148</div><div style="position:absolute;left:44.50px;width:400px;top:336.92px;font-size:9.4px;line-height:11.28px;font-weight:normal;color:#222;letter-spacing:0px;text-align:center;white-space:nowrap;transform:scaleX(0.685);-webkit-text-stroke:0.18px #222;transform-origin:200px 0;word-spacing:0.6px;">129 - 137</div><div style="position:absolute;left:120.00px;width:400px;top:336.92px;font-size:9.4px;line-height:11.28px;font-weight:normal;color:#222;letter-spacing:0px;text-align:center;white-space:nowrap;transform:scaleX(0.685);-webkit-text-stroke:0.18px #222;transform-origin:200px 0;word-spacing:0.6px;">142 - 150</div><div style="position:absolute;left:10.00px;top:361.53px;font-size:8.1px;line-height:9.72px;font-weight:bold;color:#111;letter-spacing:0.05px;white-space:nowrap;-webkit-text-stroke:0.3px #111;transform-origin:0 0;">D - Обхват стегон:</div><div style="position:absolute;left:10.00px;top:382.15px;font-size:8.5px;line-height:10.20px;font-weight:normal;color:#1c1c1c;letter-spacing:0.14px;white-space:nowrap;-webkit-text-stroke:0.15px #1c1c1c;transform-origin:0 0;">Обхват стегон вимірюється за допомогою сантиметрової стрічки, розміщеної навколо</div><div style="position:absolute;left:10.00px;top:395.05px;font-size:8.5px;line-height:10.20px;font-weight:normal;color:#1c1c1c;letter-spacing:0.14px;white-space:nowrap;-webkit-text-stroke:0.15px #1c1c1c;transform-origin:0 0;">найширшої частини стегон.</div><div style="position:absolute;left:373.60px;top:231.43px;font-size:8.1px;line-height:9.72px;font-weight:bold;color:#111;letter-spacing:0.05px;white-space:nowrap;-webkit-text-stroke:0.3px #111;transform-origin:0 0;">A - Обхват грудей:</div><div style="position:absolute;left:374.00px;top:252.95px;font-size:8.5px;line-height:10.20px;font-weight:normal;color:#1c1c1c;letter-spacing:0.1px;white-space:nowrap;-webkit-text-stroke:0.15px #1c1c1c;transform-origin:0 0;">Обхват грудей вимірюється, тримаючи сантиметрову</div><div style="position:absolute;left:374.00px;top:265.55px;font-size:8.5px;line-height:10.20px;font-weight:normal;color:#1c1c1c;letter-spacing:0.1px;white-space:nowrap;-webkit-text-stroke:0.15px #1c1c1c;transform-origin:0 0;">стрічку горизонтально та не надто туго обтягуючи</div><div style="position:absolute;left:374.00px;top:278.15px;font-size:8.5px;line-height:10.20px;font-weight:normal;color:#1c1c1c;letter-spacing:0.1px;white-space:nowrap;-webkit-text-stroke:0.15px #1c1c1c;transform-origin:0 0;">груди.</div><div style="position:absolute;left:371.70px;top:300.03px;font-size:8.1px;line-height:9.72px;font-weight:bold;color:#111;letter-spacing:0.05px;white-space:nowrap;-webkit-text-stroke:0.3px #111;transform-origin:0 0;">B - Обхват під грудьми:</div><div style="position:absolute;left:371.50px;top:320.35px;font-size:8.5px;line-height:10.20px;font-weight:normal;color:#1c1c1c;letter-spacing:0.1px;white-space:nowrap;-webkit-text-stroke:0.15px #1c1c1c;transform-origin:0 0;">Горизонтальний обхват тіла, виміряний безпосередньо</div><div style="position:absolute;left:371.50px;top:333.65px;font-size:8.5px;line-height:10.20px;font-weight:normal;color:#1c1c1c;letter-spacing:0.1px;white-space:nowrap;-webkit-text-stroke:0.15px #1c1c1c;transform-origin:0 0;">під грудьми.</div><div style="position:absolute;left:371.70px;top:355.83px;font-size:8.1px;line-height:9.72px;font-weight:bold;color:#111;letter-spacing:0.05px;white-space:nowrap;-webkit-text-stroke:0.3px #111;transform-origin:0 0;">C - Обхват талії:</div><div style="position:absolute;left:371.70px;top:376.85px;font-size:8.5px;line-height:10.20px;font-weight:normal;color:#1c1c1c;letter-spacing:0.1px;white-space:nowrap;-webkit-text-stroke:0.15px #1c1c1c;transform-origin:0 0;">Виміряйте обхват талії горизонтально в найвужчій</div><div style="position:absolute;left:371.70px;top:389.75px;font-size:8.5px;line-height:10.20px;font-weight:normal;color:#1c1c1c;letter-spacing:0.1px;white-space:nowrap;-webkit-text-stroke:0.15px #1c1c1c;transform-origin:0 0;">частині тіла або посередині між нижнім краєм грудної</div><div style="position:absolute;left:371.70px;top:402.65px;font-size:8.5px;line-height:10.20px;font-weight:normal;color:#1c1c1c;letter-spacing:0.1px;white-space:nowrap;-webkit-text-stroke:0.15px #1c1c1c;transform-origin:0 0;">клітки та тазовою кісткою.</div>
</div></body></html>
